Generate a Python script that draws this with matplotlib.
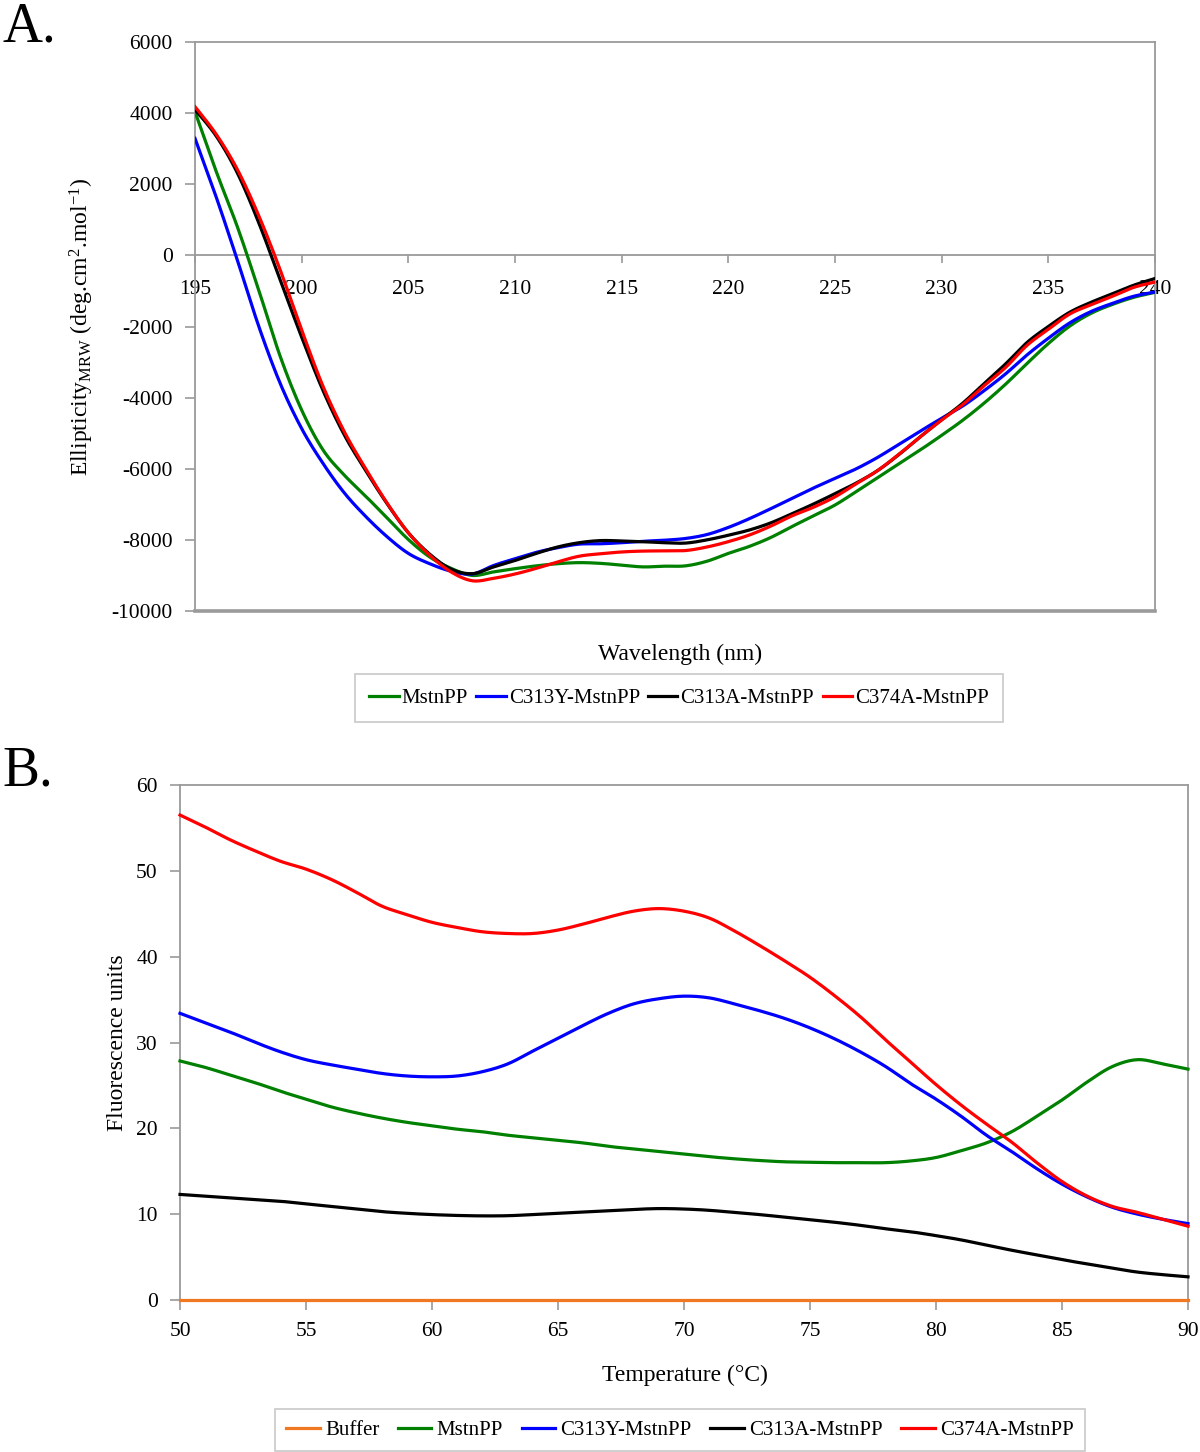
import numpy as np
import matplotlib
matplotlib.use("Agg")
import matplotlib.pyplot as plt

plt.rcParams['font.family'] = ['Liberation Serif', 'DejaVu Serif']
plt.rcParams['mathtext.fontset'] = 'custom'
plt.rcParams['mathtext.rm'] = 'Liberation Serif'
plt.rcParams['mathtext.it'] = 'Liberation Serif:italic'
plt.rcParams['axes.unicode_minus'] = False

# ---------------- Panel A data (CD spectra) ----------------
wavelength = list(range(195, 241))
cd_mstnpp = [4040, 2350, 780, -1000, -2850, -4350, -5470, -6180, -6770, -7380,
             -7990, -8480, -8800, -9000, -8900, -8810, -8730, -8670, -8640, -8660,
             -8710, -8760, -8740, -8730, -8600, -8380, -8180, -7930, -7620, -7320,
             -7020, -6640, -6250, -5860, -5470, -5060, -4630, -4150, -3620, -3040,
             -2480, -1990, -1630, -1380, -1180, -1040]
cd_c313y = [3290, 1630, -160, -2015, -3610, -4870, -5850, -6680, -7340, -7910,
            -8380, -8670, -8880, -8960, -8720, -8530, -8350, -8220, -8120, -8110,
            -8080, -8040, -8010, -7960, -7850, -7650, -7400, -7120, -6830, -6540,
            -6270, -6000, -5680, -5310, -4940, -4580, -4230, -3800, -3330, -2800,
            -2330, -1900, -1580, -1350, -1150, -1030]
cd_c313a = [4100, 3350, 2300, 900, -700, -2300, -3800, -5050, -6050, -6980,
            -7800, -8400, -8820, -8950, -8760, -8580, -8380, -8200, -8080, -8020,
            -8030, -8050, -8080, -8090, -8000, -7870, -7720, -7520, -7260, -6990,
            -6700, -6400, -6050, -5600, -5100, -4620, -4150, -3600, -3050, -2450,
            -2000, -1600, -1320, -1080, -840, -650]
cd_c374a = [4180, 3400, 2400, 1100, -420, -2100, -3680, -4960, -6000, -6960,
            -7800, -8430, -8900, -9150, -9080, -8960, -8800, -8620, -8460, -8390,
            -8340, -8315, -8310, -8300, -8200, -8050, -7860, -7610, -7320, -7080,
            -6790, -6420, -6050, -5590, -5100, -4630, -4190, -3660, -3150, -2530,
            -2080, -1650, -1390, -1150, -900, -750]

# ---------------- Panel B data (thermal shift) ----------------
temperature = list(range(50, 91))
fl_buffer = [0.0] * 41
fl_mstnpp = [27.85, 27.1, 26.2, 25.3, 24.3, 23.4, 22.5, 21.8, 21.2, 20.7,
             20.3, 19.9, 19.6, 19.2, 18.9, 18.6, 18.3, 17.9, 17.6, 17.3,
             17.0, 16.7, 16.45, 16.25, 16.1, 16.05, 16.0, 16.0, 16.0, 16.2,
             16.6, 17.4, 18.3, 19.6, 21.4, 23.3, 25.4, 27.2, 28.0, 27.5, 26.9]
fl_c313y = [33.4, 32.3, 31.2, 30.0, 28.9, 28.0, 27.4, 26.9, 26.4, 26.1,
            26.0, 26.1, 26.6, 27.5, 29.0, 30.5, 32.0, 33.4, 34.5, 35.1,
            35.4, 35.2, 34.5, 33.7, 32.8, 31.7, 30.4, 28.9, 27.2, 25.2,
            23.4, 21.4, 19.2, 17.3, 15.3, 13.5, 12.0, 10.8, 10.0, 9.4, 8.9]
fl_c313a = [12.3, 12.1, 11.9, 11.7, 11.5, 11.2, 10.9, 10.6, 10.3, 10.1,
            9.95, 9.85, 9.8, 9.82, 9.95, 10.1, 10.25, 10.4, 10.55, 10.65,
            10.6, 10.45, 10.2, 9.95, 9.65, 9.35, 9.05, 8.7, 8.3, 7.95,
            7.5, 7.0, 6.4, 5.8, 5.25, 4.7, 4.2, 3.7, 3.25, 2.95, 2.7]
fl_c374a = [56.5, 55.1, 53.6, 52.3, 51.1, 50.2, 49.0, 47.5, 45.9, 44.9,
            44.0, 43.4, 42.9, 42.7, 42.7, 43.1, 43.8, 44.6, 45.3, 45.6,
            45.3, 44.5, 43.0, 41.3, 39.5, 37.6, 35.4, 33.0, 30.3, 27.7,
            25.1, 22.7, 20.5, 18.4, 16.0, 13.8, 12.1, 10.9, 10.2, 9.4, 8.6]

labels_a = ["MstnPP", "C313Y-MstnPP", "C313A-MstnPP", "C374A-MstnPP"]
labels_b = ["Buffer", "MstnPP", "C313Y-MstnPP", "C313A-MstnPP", "C374A-MstnPP"]
colors_a = ["#008000", "#0000ff", "#000000", "#ff0000"]
colors_b = ["#f07820", "#008000", "#0000ff", "#000000", "#ff0000"]


def smooth(x, y, n=12):
    """Catmull-Rom rendering of a polyline (like a smoothed spreadsheet line)."""
    P = np.column_stack([np.asarray(x, float), np.asarray(y, float)])
    out = []
    N = len(P)
    for i in range(N - 1):
        p0 = P[i - 1] if i > 0 else P[i]
        p1 = P[i]
        p2 = P[i + 1]
        p3 = P[i + 2] if i + 2 < N else P[i + 1]
        t = np.linspace(0, 1, n, endpoint=False)[:, None]
        seg = 0.5 * ((2 * p1) + (-p0 + p2) * t + (2 * p0 - 5 * p1 + 4 * p2 - p3) * t ** 2
                     + (-p0 + 3 * p1 - 3 * p2 + p3) * t ** 3)
        out.append(seg)
    out.append(P[-1:])
    S = np.vstack(out)
    return S[:, 0], S[:, 1]


W, H = 1200, 1452
fig = plt.figure(figsize=(W / 100, H / 100), dpi=100)
SPINE = "#9a9a9a"
TFS = 15.5

# ---------------- Panel A ----------------
axA = fig.add_axes([195 / W, 1 - 611 / H, 960 / W, 569 / H])
for lab, col, ys in zip(labels_a, colors_a, [cd_mstnpp, cd_c313y, cd_c313a, cd_c374a]):
    sx, sy = smooth(wavelength, ys)
    axA.plot(sx, sy, color=col, lw=2.3, label=lab, zorder=3)
axA.set_xlim(195, 240)
axA.set_ylim(-10000, 6000)
axA.set_xticks(range(195, 241, 5))
axA.set_yticks(range(-10000, 6001, 2000))
axA.spines['bottom'].set_position(('data', 0))
for s in axA.spines.values():
    s.set_color(SPINE)
    s.set_linewidth(1.3)
axA.axhline(-10000, color=SPINE, lw=2.6, clip_on=False, zorder=1)
axA.tick_params(axis='x', direction='out', length=6, width=1.2, color=SPINE,
                labelsize=TFS, pad=12)
axA.tick_params(axis='y', direction='out', length=7, width=1.2, color=SPINE,
                labelsize=TFS, pad=9)
axA.set_ylabel(r'Ellipticity$_{\mathrm{MRW}}$ (deg.cm$^{2}$.mol$^{\mathrm{-1}}$)',
               fontsize=17)
axA.yaxis.set_label_coords(-0.103, 0.5)
fig.text(680 / W, 1 - 654 / H, "Wavelength (nm)", ha='center', va='center', fontsize=17)
legA = fig.legend(loc='center', bbox_to_anchor=(679 / W, 1 - 698 / H), ncol=4,
                  fontsize=15, frameon=True, fancybox=False, edgecolor='#bbbbbb',
                  handlelength=1.4, handletextpad=0.15, columnspacing=0.4,
                  borderpad=0.7)
legA.get_frame().set_linewidth(1.2)
fig.text(0.002, 1 - 2 / H, "A.", ha='left', va='top', fontsize=40)

# ---------------- Panel B ----------------
axB = fig.add_axes([180 / W, 1 - 1300 / H, 1008 / W, 515 / H])
for lab, col, ys in zip(labels_b, colors_b,
                        [fl_buffer, fl_mstnpp, fl_c313y, fl_c313a, fl_c374a]):
    sx, sy = smooth(temperature, ys)
    axB.plot(sx, sy, color=col, lw=2.3, label=lab, zorder=3, clip_on=False)
axB.set_xlim(50, 90)
axB.set_ylim(0, 60)
axB.set_xticks(range(50, 91, 5))
axB.set_yticks(range(0, 61, 10))
for s in axB.spines.values():
    s.set_color(SPINE)
    s.set_linewidth(1.3)
axB.tick_params(axis='both', direction='out', length=7, width=1.2, color=SPINE,
                labelsize=TFS, pad=9)
axB.set_ylabel("Fluorescence units", fontsize=17)
axB.yaxis.set_label_coords(-0.052, 0.5)
fig.text(685 / W, 1 - 1375 / H, "Temperature (°C)", ha='center', va='center', fontsize=17)
legB = fig.legend(axB.get_lines(), labels_b, loc='center',
                  bbox_to_anchor=(680 / W, 1 - 1430 / H), ncol=5,
                  fontsize=15, frameon=True, fancybox=False, edgecolor='#bbbbbb',
                  handlelength=1.6, handletextpad=0.25, columnspacing=0.9,
                  borderpad=0.55)
legB.get_frame().set_linewidth(1.2)
fig.text(0.002, 1 - 745 / H, "B.", ha='left', va='top', fontsize=40)

fig.savefig("out.png", dpi=100)
